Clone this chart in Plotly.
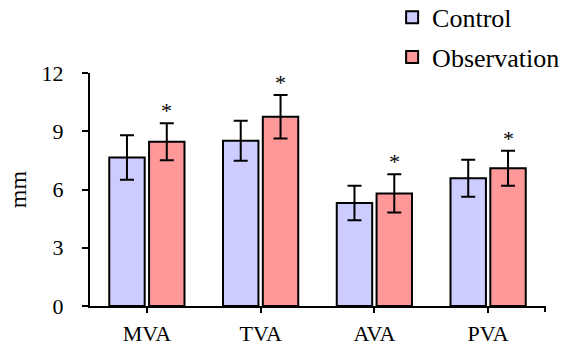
import plotly.graph_objects as go

categories = ["MVA", "TVA", "AVA", "PVA"]
control_vals = [7.65, 8.51, 5.30, 6.58]
control_err = [1.15, 1.03, 0.89, 0.95]
obs_vals = [8.46, 9.75, 5.80, 7.09]
obs_err = [0.95, 1.12, 0.98, 0.90]
y_ticks = [0, 3, 6, 9, 12]

FONT = "Times New Roman"
BARGAP = 0.30

fig = go.Figure()
fig.add_trace(go.Bar(
    name="Control", x=categories, y=control_vals, legendgroup="c",
    marker=dict(color="#CCCCFF", line=dict(color="black", width=2)),
    error_y=dict(type="data", array=control_err, color="black", thickness=2, width=7),
))
fig.add_trace(go.Bar(
    name="Observation", x=categories, y=obs_vals, legendgroup="o",
    marker=dict(color="#FF9999", line=dict(color="black", width=2)),
    error_y=dict(type="data", array=obs_err, color="black", thickness=2, width=7),
))

offset = (1 - BARGAP) / 4
for i, (v, e) in enumerate(zip(obs_vals, obs_err)):
    fig.add_annotation(x=i + offset, y=v + e, text="*", showarrow=False,
                       yanchor="bottom", yshift=-2,
                       font=dict(family=FONT, size=22, color="black"))

fig.add_shape(type="line", xref="paper", yref="paper", x0=1, x1=1,
              ysizemode="pixel", yanchor=0, y0=0, y1=-6,
              line=dict(color="black", width=2))

fig.update_layout(
    width=567, height=346,
    margin=dict(l=90, r=22, t=73, b=40, autoexpand=False),
    paper_bgcolor="white", plot_bgcolor="white",
    barmode="group", bargap=BARGAP, bargroupgap=0.11,
    font=dict(family=FONT, size=22, color="black"),
    showlegend=True,
    legend=dict(x=0.664, xanchor="left", y=1.34, yanchor="top",
                font=dict(family=FONT, size=26, color="black"),
                traceorder="grouped", tracegroupgap=3,
                bgcolor="rgba(0,0,0,0)"),
    xaxis=dict(showline=True, linecolor="black", linewidth=2,
               ticks="outside", ticklen=5, tickwidth=2, tickcolor="black",
               tickfont=dict(family=FONT, size=22), showgrid=False,
               ticklabelstandoff=2),
    yaxis=dict(range=[0, 12], tickvals=y_ticks, showline=True, linecolor="black",
               linewidth=2, ticks="outside", ticklen=6, tickwidth=2, tickcolor="black",
               tickfont=dict(family=FONT, size=22), showgrid=False, zeroline=False,
               ticklabelstandoff=14,
               title=dict(text="mm", font=dict(family=FONT, size=24), standoff=8)),
)

fig.write_html("out.html", config={"displayModeBar": False},
               post_script="document.body.style.margin='0';")
